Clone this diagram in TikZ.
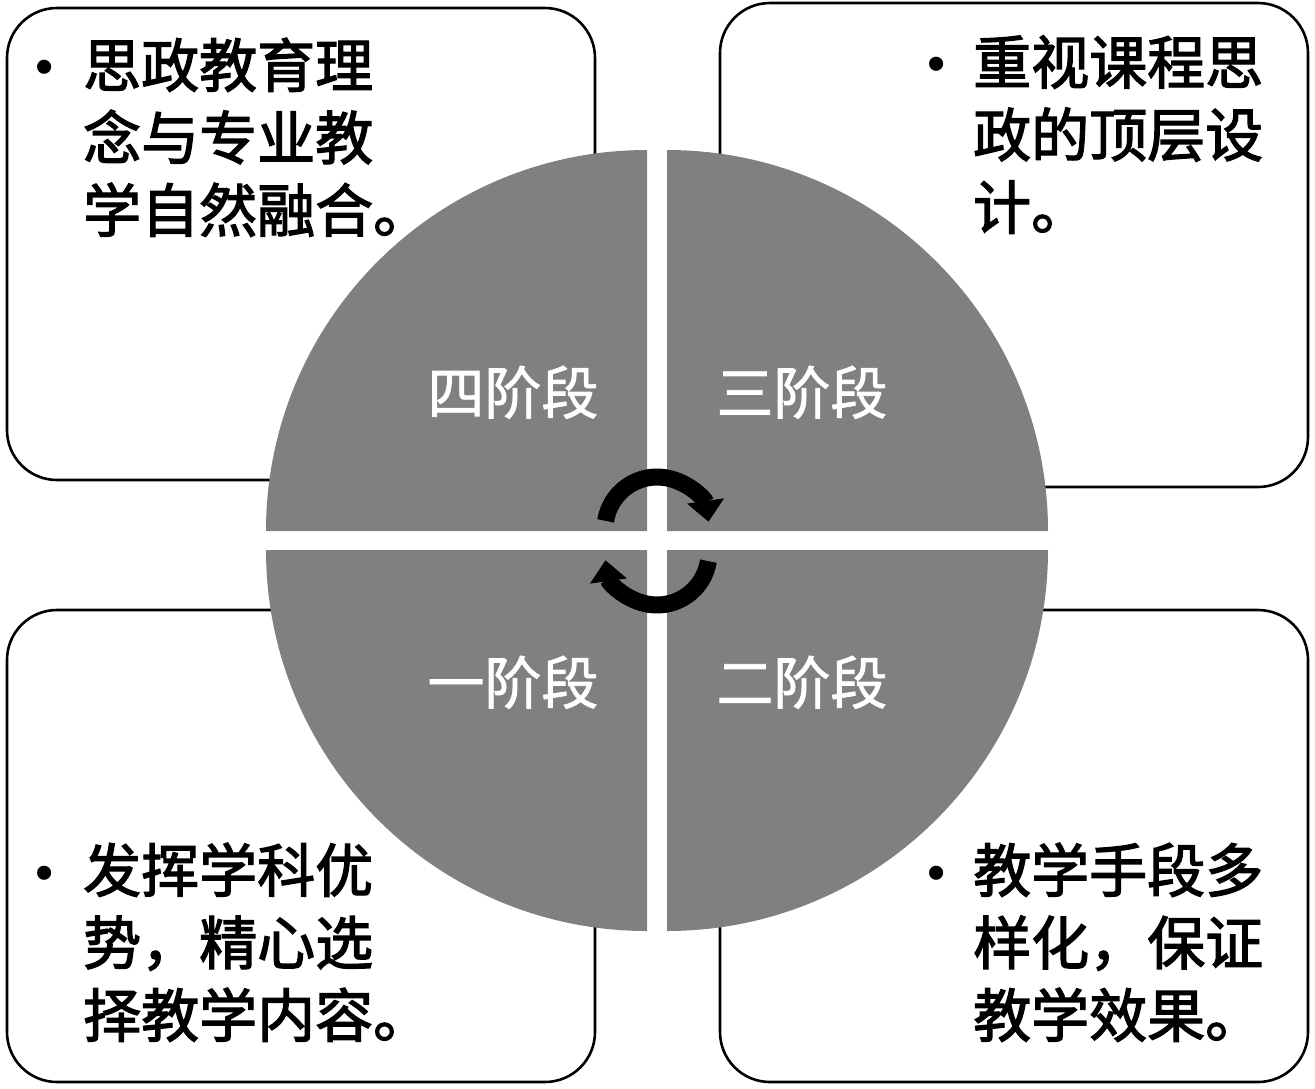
\documentclass[tikz,border=0pt]{standalone}
\usepackage{fontspec}
\usetikzlibrary{arrows.meta}
\newfontfamily\cjktxt{Noto Sans CJK SC}[FakeBold=2.2]
\newfontfamily\cjkreg{Noto Sans CJK SC}[FakeBold=1.3]
\newfontfamily\bulfont{Liberation Sans}
\definecolor{quadgray}{RGB}{128,128,128}
\tikzset{
  card/.style={draw=black, line width=2.6pt, fill=white, rounded corners=50pt},
  quad/.style={fill=quadgray, draw=none},
  bodytext/.style={anchor=base west, align=left, inner sep=0pt, text=black,
    font=\cjktxt\fontsize{58}{72.5}\selectfont},
  bul/.style={anchor=base, inner sep=0pt, font=\bulfont\fontsize{52}{52}\selectfont},
  stagetext/.style={anchor=base, inner sep=0pt, text=white,
    font=\cjkreg\fontsize{57}{57}\selectfont},
  cyc/.style={line width=17pt, draw=black, -{Triangle[width=36pt,length=21pt]}}
}
\begin{document}
\begin{tikzpicture}[x=1pt,y=-1pt]
\path[use as bounding box] (0,0) rectangle (1315,1088);
% cards
\path[card] (7,8) rectangle (595,480);
\path[card] (720,3) rectangle (1308,487);
\path[card] (7,610) rectangle (595,1082);
\path[card] (720,610) rectangle (1308,1082);
% quadrants
\path[quad] (647,531) -- ++(-381,0) arc[start angle=180,end angle=270,radius=381] -- cycle;
\path[quad] (667,531) -- ++(0,-381) arc[start angle=270,end angle=360,radius=381] -- cycle;
\path[quad] (667,550) -- ++(381,0) arc[start angle=0,end angle=90,radius=381] -- cycle;
\path[quad] (647,550) -- ++(0,381) arc[start angle=90,end angle=180,radius=381] -- cycle;
% stage labels
\node[stagetext] (s4) at (513,414) {四阶段};
\node[stagetext] (s3) at (802,414) {三阶段};
\node[stagetext] (s1) at (513,704) {一阶段};
\node[stagetext] (s2) at (802,704) {二阶段};
% cycle arrows
\draw[cyc] (657,529) ++(189:52) arc[start angle=189,end angle=352,radius=52];
\draw[cyc] (657,553) ++(9:52) arc[start angle=9,end angle=172,radius=52];
% texts (anchored at the baseline of the last line)
\node[bul] (b1) at (45,84) {•};
\node[bodytext] (t1) at (83,232) {思政教育理\\念与专业教\\学自然融合。};
\node[bul] (b2) at (937,81) {•};
\node[bodytext] (t2) at (973,229) {重视课程思\\政的顶层设\\计。};
\node[bul] (b3) at (45,890) {•};
\node[bodytext] (t3) at (83,1037) {发挥学科优\\势，精心选\\择教学内容。};
\node[bul] (b4) at (937,890) {•};
\node[bodytext] (t4) at (973,1037) {教学手段多\\样化，保证\\教学效果。};
\end{tikzpicture}
\end{document}
